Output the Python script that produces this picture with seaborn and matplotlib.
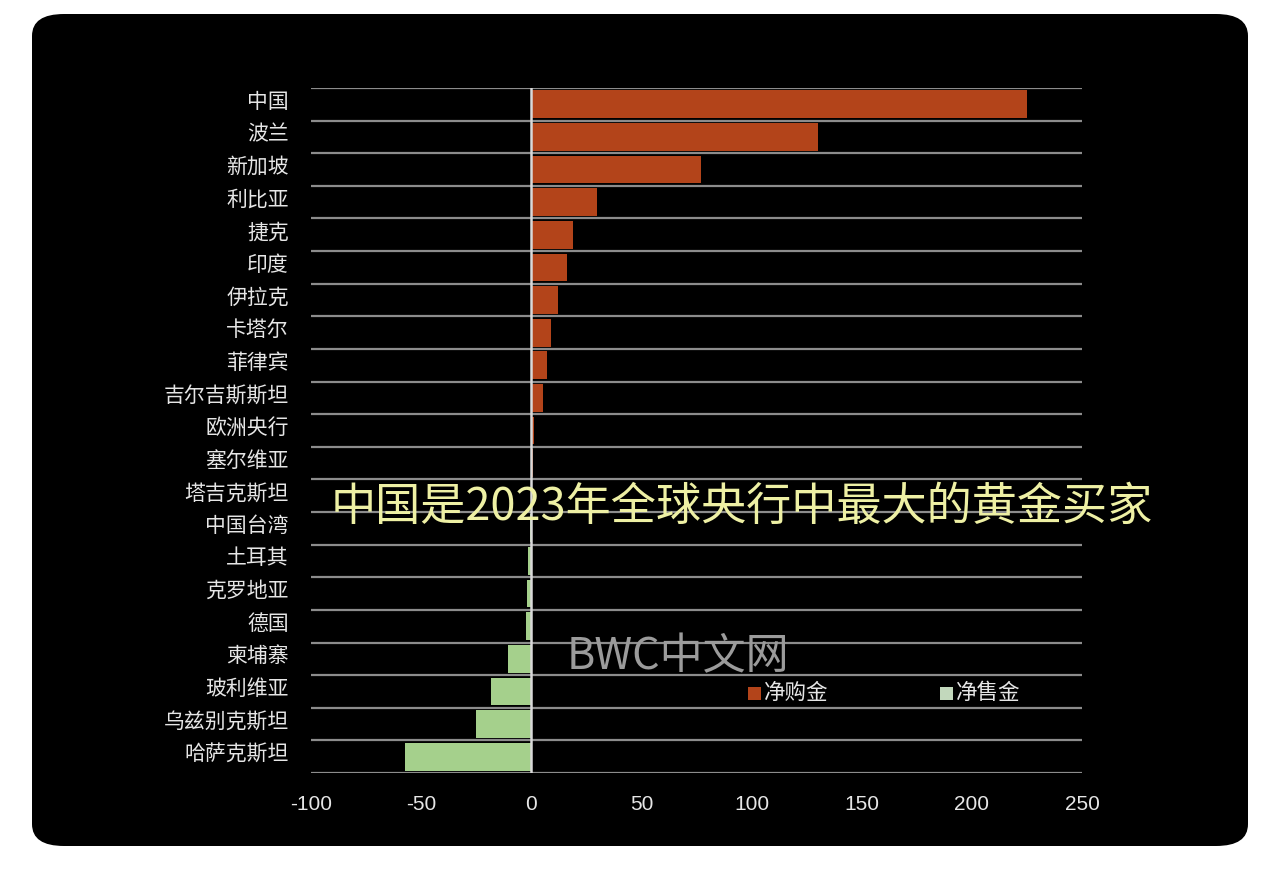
#import libraries
import numpy as np
import pandas as pd
import matplotlib.pyplot as plt
import matplotlib.transforms as mtransforms
import seaborn as sns
from matplotlib.patches import FancyBboxPatch, Rectangle

#data (tonnes, 2023 central bank net gold purchases/sales)
countries = ['中国', '波兰', '新加坡', '利比亚', '捷克', '印度', '伊拉克', '卡塔尔', '菲律宾',
             '吉尔吉斯斯坦', '欧洲央行', '塞尔维亚', '塔吉克斯坦', '中国台湾', '土耳其',
             '克罗地亚', '德国', '柬埔寨', '玻利维亚', '乌兹别克斯坦', '哈萨克斯坦']
tonnes = [225, 130, 77, 30, 19, 16, 12, 9, 7, 5.5, 1.2, 0.6, 0.2, -0.6, -1.5,
          -2, -2.5, -10.5, -18.5, -25, -57.5]
series_names = ['净购金', '净售金']
x_ticks = [-100, -50, 0, 50, 100, 150, 200, 250]

df = pd.DataFrame({'country': countries, 'tonnes': tonnes})
df['kind'] = np.where(df['tonnes'] >= 0, series_names[0], series_names[1])

buy_color = '#b3441a'
sell_color = '#a5d08c'

sns.set_style('dark')
plt.rcParams['font.family'] = ['Noto Sans CJK SC', 'DejaVu Sans']

fig = plt.figure(figsize=(12.8, 8.74), dpi=100)
fig.patch.set_facecolor('white')

#black rounded card
card = FancyBboxPatch((32 / 1280, 28 / 874), 1216 / 1280, 832 / 874,
                      boxstyle='round,pad=0,rounding_size=0.025',
                      transform=fig.transFigure, facecolor='black',
                      edgecolor='none', zorder=-5)
fig.patches.append(card)

ax = fig.add_axes([311 / 1280, 1 - 773 / 874, 771 / 1280, 685 / 874])
ax.set_facecolor('none')
ax.set_zorder(2)

sns.barplot(data=df, x='tonnes', y='country', hue='kind',
            palette={series_names[0]: buy_color, series_names[1]: sell_color},
            saturation=1, dodge=False, width=0.85, legend=False, ax=ax,
            orient='h', edgecolor='none', zorder=3)

ax.set_xlim(-100, 250)
ax.set_ylim(len(countries) - 0.5, -0.5)

#horizontal grid lines between categories
for b in np.arange(-0.5, len(countries), 1):
    ax.axhline(b, color='#8c8c8c', lw=1.6, zorder=1)
ax.axvline(0, color='#d9d9d9', lw=1.8, zorder=4)

ax.set_xticks(x_ticks)
ax.set_xticklabels([str(t) for t in x_ticks], fontsize=15, color='#e6e6e6',
                   family=['Liberation Sans', 'DejaVu Sans'])
ax.tick_params(axis='x', length=0, pad=16)
ax.tick_params(axis='y', length=0, pad=16, labelsize=15, labelcolor='#e6e6e6')

#labels sit a little above the bar centre in the original
shift = mtransforms.ScaledTranslation(0, 0.05, fig.dpi_scale_trans)
for lab in ax.get_yticklabels():
    lab.set_transform(lab.get_transform() + shift)

ax.set_xlabel('')
ax.set_ylabel('')
ax.grid(False)
for s in ax.spines.values():
    s.set_visible(False)

#overlay texts
fig.text(742 / 1280, 1 - 507 / 874, '中国是2023年全球央行中最大的黄金买家',
         ha='center', va='center', fontsize=32.5, color='#eef0a4', zorder=10)
fig.text(678 / 1280, 1 - 657 / 874, 'BWC中文网',
         ha='center', va='center', fontsize=31, color='#9b9b9b', zorder=10)

#legend
for x0, name, c in [(748, series_names[0], buy_color), (940, series_names[1], '#c2d8bc')]:
    fig.patches.append(Rectangle((x0 / 1280, 1 - 700 / 874), 13 / 1280, 13 / 874,
                                 transform=fig.transFigure, facecolor=c,
                                 edgecolor='none', zorder=10))
    fig.text((x0 + 16) / 1280, 1 - 693 / 874, name, ha='left', va='center',
             fontsize=15.5, color='#e6e6e6', zorder=10)

fig.savefig('out.png', dpi=100, facecolor='white')
